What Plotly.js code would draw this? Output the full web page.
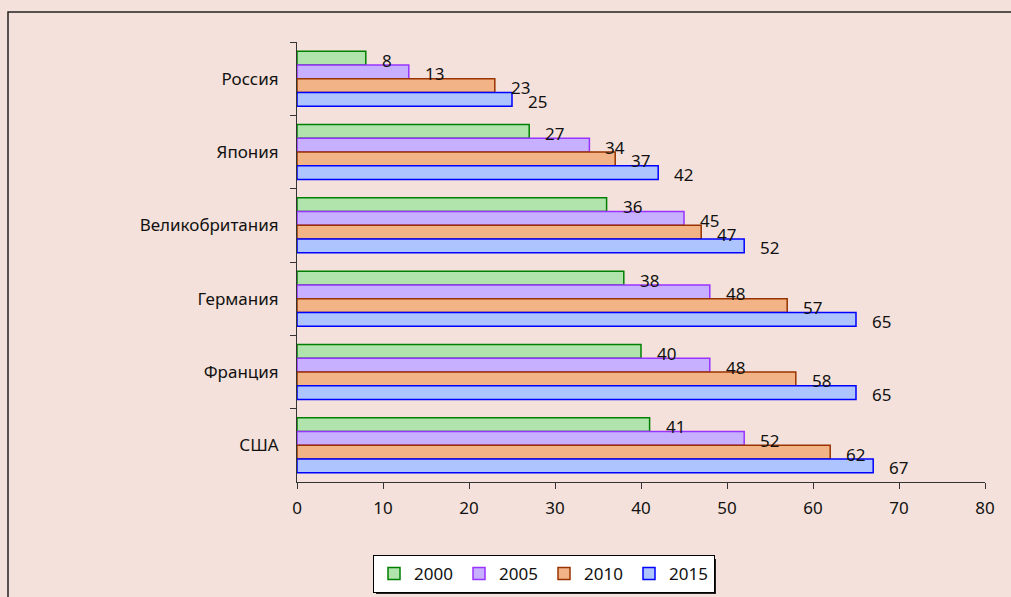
<!DOCTYPE html>
<html><head><meta charset="utf-8">
<script src="https://cdn.plot.ly/plotly-3.0.1.min.js"></script>
<style>html,body{margin:0;padding:0;background:#f5e1db;}</style>
</head><body><div id="chart" style="width:1011px;height:597px;"></div>
<script>
const categories = ["Россия", "Япония", "Великобритания", "Германия", "Франция", "США"];
const years = ["2000", "2005", "2010", "2015"];
const v2000 = [8, 27, 36, 38, 40, 41];
const v2005 = [13, 34, 45, 48, 48, 52];
const v2010 = [23, 37, 47, 57, 58, 62];
const v2015 = [25, 42, 52, 65, 65, 67];
const xTicks = [0, 10, 20, 30, 40, 50, 60, 70, 80];

const series = [v2000, v2005, v2010, v2015];
const fills = ["#b0e4ac", "#c6b0ff", "#f2b487", "#adc4ff"];
const lines = ["#008000", "#9933ff", "#993300", "#0000ff"];
const FONT = "Noto Sans, Liberation Sans, Arial, sans-serif";
const FS = 17;

const traces = series.map((vals, i) => ({
  type: "bar", orientation: "h", name: years[i],
  y: categories, x: vals,
  marker: {color: fills[i], line: {color: lines[i], width: 1.5}},
  hoverinfo: "x+name"
}));

const L = 297, R = 985, T = 42, B = 482;
const W = 1011, H = 597;
const bargap = 0.25;
const plotH = B - T;
const catPx = plotH / categories.length;
const barPx = catPx * (1 - bargap) / series.length;
const annotations = [];
series.forEach((vals, i) => {
  vals.forEach((v, j) => {
    annotations.push({
      x: v, y: categories[j], xref: "x", yref: "y",
      text: String(v), showarrow: false,
      xanchor: "left", yanchor: "middle",
      xshift: 14, yshift: -(i - 1.5) * barPx - 2,
      font: {family: FONT, size: FS, color: "#111"}
    });
  });
});

const px2x = p => (p - L) / (R - L);
const px2y = p => (B - p) / (B - T);

const layout = {
  width: W, height: H,
  paper_bgcolor: "#f5e1db", plot_bgcolor: "#f5e1db",
  margin: {l: L, r: W - R, t: T, b: H - B, pad: 0, autoexpand: false},
  barmode: "group", bargap: bargap, bargroupgap: 0,
  font: {family: FONT, size: FS, color: "#111"},
  xaxis: {
    range: [0, 80], tickvals: xTicks, ticktext: xTicks.map(String),
    showgrid: false, zeroline: false, showline: true, linecolor: "#333", linewidth: 1,
    ticks: "outside", ticklen: 6, tickcolor: "#333", ticklabelstandoff: 5,
    tickfont: {family: FONT, size: FS, color: "#111"}, fixedrange: true
  },
  yaxis: {
    autorange: "reversed", showgrid: false, zeroline: false,
    showline: true, linecolor: "#333", linewidth: 1,
    ticks: "outside", ticklen: 6, tickcolor: "#333", tickson: "boundaries",
    ticklabelstandoff: 14,
    tickfont: {family: FONT, size: FS, color: "#111"}, fixedrange: true
  },
  showlegend: true,
  legend: {
    orientation: "h", xref: "container", yref: "container",
    x: 544 / W, xanchor: "center", y: 1 - 555 / H, yanchor: "top",
    bgcolor: "#ffffff", bordercolor: "#000", borderwidth: 1,
    font: {family: FONT, size: FS, color: "#111"}, traceorder: "normal",
    entrywidth: 40, entrywidthmode: "pixels", itemwidth: 30
  },
  annotations: annotations,
  shapes: [{
    type: "rect", xref: "paper", yref: "paper",
    x0: px2x(8), x1: px2x(1100), y0: px2y(700), y1: px2y(12),
    line: {color: "#222", width: 1.5}, fillcolor: "rgba(0,0,0,0)", layer: "below"
  }, {
    type: "rect", xref: "paper", yref: "paper",
    x0: px2x(376), x1: px2x(716), y0: px2y(594), y1: px2y(559),
    line: {width: 0}, fillcolor: "#222", layer: "below"
  }]
};

Plotly.newPlot("chart", traces, layout, {displayModeBar: false, staticPlot: true});
</script></body></html>
